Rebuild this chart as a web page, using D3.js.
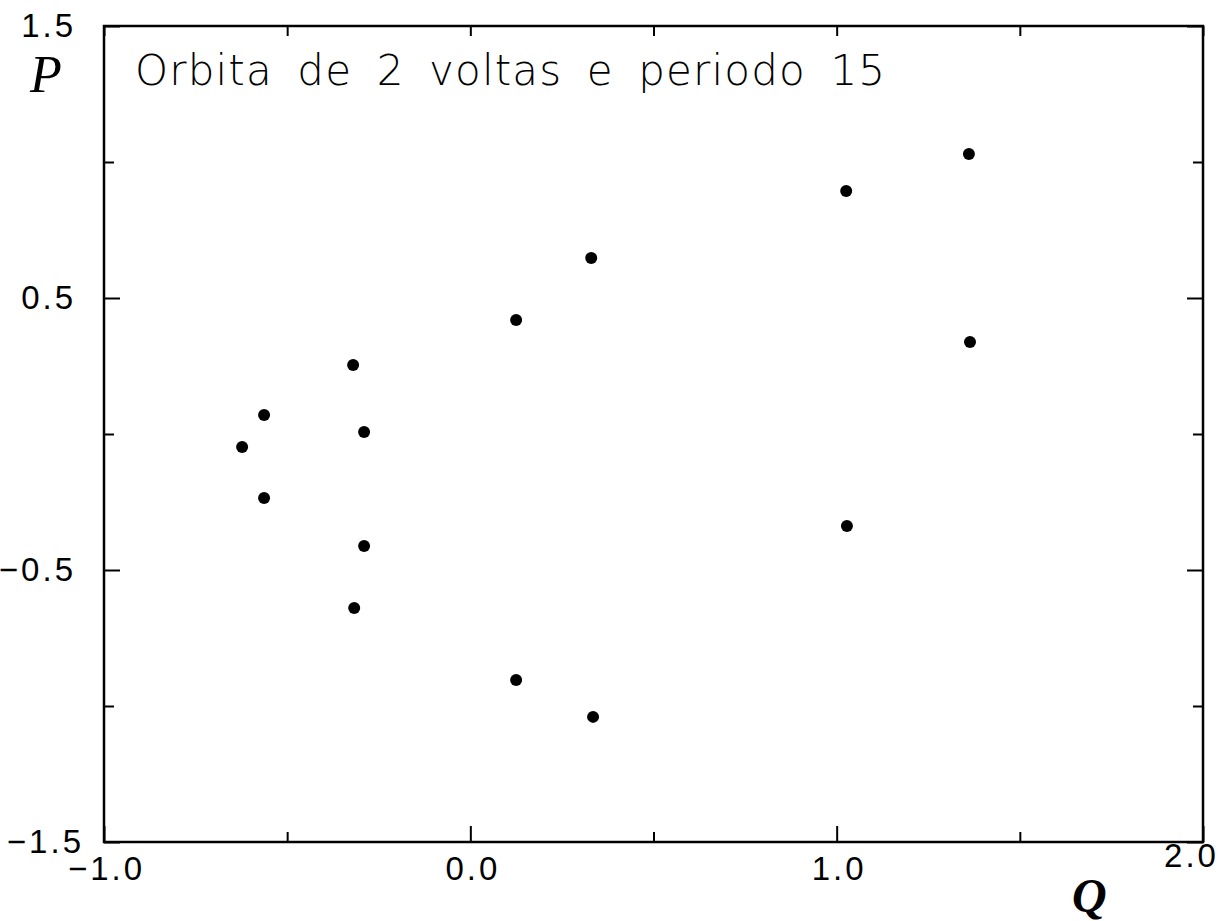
<!DOCTYPE html>
<html>
  <head>
    <meta charset="utf-8">
    <title>Orbita de 2 voltas e periodo 15</title>
    <style>
    body { margin: 0; border: 0; overflow: hidden; background: #fff; }
    </style>
  </head>
  <body>
    <script src="https://cdnjs.cloudflare.com/ajax/libs/d3/7.8.5/d3.min.js"></script>
    <script>
var width = 1227, height = 921;

// orbit points
var q_vals = [1.361, 1.026, 0.330, 0.125, -0.320, -0.563, -0.623, -0.290, -0.563, -0.290, -0.317, 0.125, 0.335, 1.028, 1.364];
var p_vals = [1.029, 0.893, 0.647, 0.419, 0.254, 0.070, -0.048, 0.007, -0.235, -0.412, -0.640, -0.904, -1.040, -0.338, 0.338];

var x_major = [-1.0, 0.0, 1.0, 2.0],
    x_minor = [-0.5, 0.5, 1.5],
    y_major = [1.5, 0.5, -0.5, -1.5],
    y_minor = [1.0, 0.0, -1.0];

var title = "Orbita de 2 voltas e periodo 15";

var x_scale = d3.scaleLinear().domain([-1, 2]).range([104, 1203]),
    y_scale = d3.scaleLinear().domain([-1.5, 1.5]).range([842, 26]);

var svg = d3.select("body").append("svg")
    .attr("width", width)
    .attr("height", height);

var fmt = function(d) { return d3.format(".1f")(d).replace("-", "\u2212"); };

// ticks, all pointing inward
function ticks(axisFn, scale, vals, len, pos) {
  svg.append("g")
    .attr("transform", pos)
    .call(axisFn(scale).tickValues(vals).tickSize(-len).tickFormat(""))
    .call(g => g.select(".domain").remove())
    .selectAll("line").attr("stroke", "#000").attr("stroke-width", 2);
}
var bottom = y_scale(-1.5), top_ = y_scale(1.5), left = x_scale(-1), right = x_scale(2);
ticks(d3.axisBottom, x_scale, x_major, 16, "translate(0," + bottom + ")");
ticks(d3.axisBottom, x_scale, x_minor, 10, "translate(0," + bottom + ")");
ticks(d3.axisTop, x_scale, x_major.concat(x_minor), 10, "translate(0," + top_ + ")");
ticks(d3.axisLeft, y_scale, y_major, 16, "translate(" + left + ",0)");
ticks(d3.axisLeft, y_scale, y_minor, 10, "translate(" + left + ",0)");
ticks(d3.axisRight, y_scale, y_major, 16, "translate(" + right + ",0)");
ticks(d3.axisRight, y_scale, y_minor, 10, "translate(" + right + ",0)");

// tick labels
var xl = svg.append("g")
  .attr("transform", "translate(0," + bottom + ")")
  .call(d3.axisBottom(x_scale).tickValues(x_major).tickSize(0).tickPadding(12).tickFormat(fmt));
xl.select(".domain").remove();
xl.selectAll(".tick text")
  .attr("font-family", "'Liberation Sans', Arial, sans-serif")
  .attr("font-size", 33)
  .attr("letter-spacing", 3)
  .attr("fill", "#000")
  .attr("dy", function(d) { return d == 2 ? "0.4em" : "0.8em"; })
  .attr("dx", function(d) { return d == -1 ? "2" : d == 2 ? "-12" : "2"; });

var yl = svg.append("g")
  .attr("transform", "translate(" + left + ",0)")
  .call(d3.axisLeft(y_scale).tickValues(y_major).tickSize(0).tickPadding(28).tickFormat(fmt));
yl.select(".domain").remove();
yl.selectAll(".tick text")
  .attr("font-family", "'Liberation Sans', Arial, sans-serif")
  .attr("font-size", 33)
  .attr("letter-spacing", 3)
  .attr("fill", "#000")
  .attr("dx", function(d) { return d == -1.5 ? "8" : "0"; });

// frame
svg.append("rect")
  .attr("x", left).attr("y", top_)
  .attr("width", right - left).attr("height", bottom - top_)
  .attr("fill", "none").attr("stroke", "#000").attr("stroke-width", 2.5);

// points
svg.append("g").selectAll("circle")
  .data(q_vals.map(function(q, i) { return [q, p_vals[i]]; }))
  .join("circle")
  .attr("cx", function(d) { return x_scale(d[0]); })
  .attr("cy", function(d) { return y_scale(d[1]); })
  .attr("r", 6)
  .attr("fill", "#000");

// title inside the frame
svg.append("text")
  .attr("x", 135).attr("y", 85)
  .attr("font-family", "'DejaVu Sans', sans-serif")
  .attr("font-weight", 300)
  .attr("font-size", 42)
  .attr("word-spacing", 10)
  .attr("textLength", 750)
  .attr("lengthAdjust", "spacing")
  .text(title);

// axis letters
svg.append("text")
  .attr("x", 30).attr("y", 92)
  .attr("font-family", "'Liberation Serif', serif")
  .attr("font-style", "italic")
  .attr("font-size", 52)
  .text("P");

svg.append("text")
  .attr("x", 1072).attr("y", 912)
  .attr("font-family", "'Liberation Serif', serif")
  .attr("font-style", "italic")
  .attr("font-weight", "bold")
  .attr("font-size", 48)
  .text("Q");
    </script>
  </body>
</html>
